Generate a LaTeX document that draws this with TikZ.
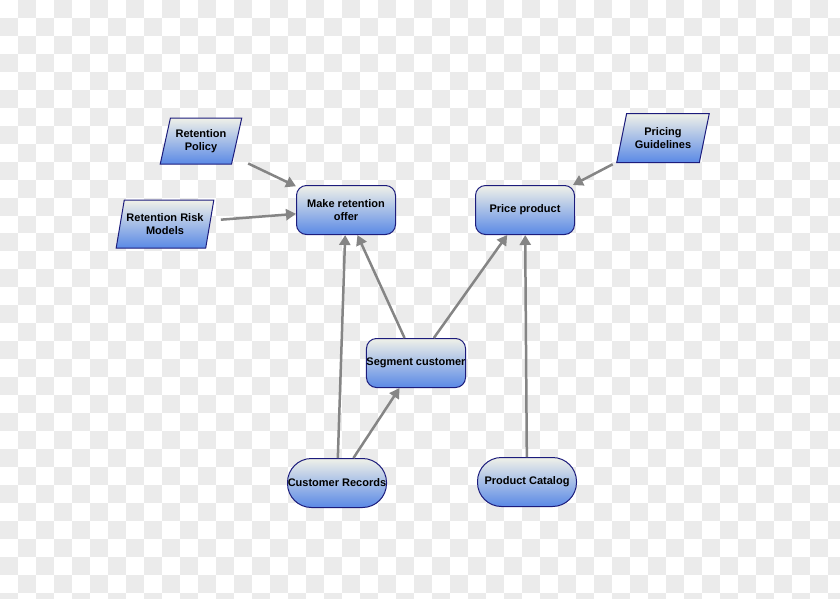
\documentclass[tikz,border=0pt]{standalone}
\usepackage{fontspec}
\setmainfont{Liberation Sans}
\usetikzlibrary{arrows.meta,shapes.geometric}
\definecolor{checkgray}{HTML}{EBEBEB}
\definecolor{topfill}{HTML}{F0F1E8}
\definecolor{botfill}{HTML}{5A89E6}
\definecolor{edgeblue}{HTML}{1C1C7C}
\definecolor{arrowgray}{HTML}{858585}
\tikzset{
  proc/.style={rectangle, rounded corners=10pt, draw=edgeblue, line width=1pt,
    top color=topfill, bottom color=botfill, minimum width=99pt, minimum height=49pt,
    inner sep=0pt, align=center, font=\fontsize{11}{13}\selectfont\bfseries},
  store/.style={proc, rounded corners=24pt},
  datain/.style={trapezium, trapezium left angle=70, trapezium right angle=110,
    trapezium stretches=true, draw=edgeblue, line width=1pt,
    top color=topfill, bottom color=botfill, inner sep=0pt, align=center,
    font=\fontsize{11}{13}\selectfont\bfseries},
  conn/.style={draw=arrowgray, line width=2.5pt, -{Triangle[length=10pt,width=11pt]}}
}
\begin{document}
\begin{tikzpicture}[x=1pt,y=-1pt]
\useasboundingbox (0,0) rectangle (840,598);
\begin{scope}
\clip (0,0) rectangle (840,598);
\fill[white] (0,0) rectangle (840,598);
\foreach \i in {0,...,46}{
  \foreach \j in {0,...,33}{
    \pgfmathtruncatemacro\cpar{mod(\i+\j,2)}
    \ifnum\cpar=1 \fill[checkgray] (\i*18,\j*17.96) rectangle ++(18,17.96);\fi
  }
}
\end{scope}

\node[proc] (mro) at (346,210) {Make retention\\offer};
\node[proc] (pp) at (525,210) {Price product};
\node[proc] (sc) at (416,363) {Segment customer};
\node[store] (cr) at (337,483) {Customer Records};
\node[store] (pc) at (527,482) {Product Catalog};
\node[datain, minimum width=82pt, minimum height=46pt] (rp) at (201,141) {Retention\\Policy};
\node[datain, minimum width=98pt, minimum height=48pt] (rrm) at (165,224) {Retention Risk\\Models};
\node[datain, minimum width=93pt, minimum height=49pt] (pg) at (663,138) {Pricing\\Guidelines};

\draw[conn, shorten <=16pt] (rp) -- (mro);
\draw[conn, shorten <=10pt] (rrm) -- (mro);
\draw[conn, shorten <=4pt] (pg) -- (pp);
\draw[conn] (cr) -- (mro);
\draw[conn] (sc) -- (mro);
\draw[conn] (sc) -- (pp);
\draw[conn] (cr) -- (sc);
\draw[conn] (pc) -- (pp);
\end{tikzpicture}
\end{document}
